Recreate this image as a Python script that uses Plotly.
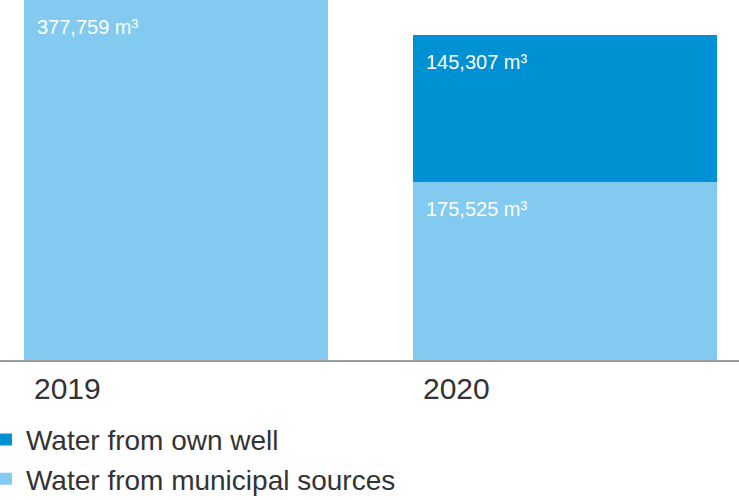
import plotly.graph_objects as go

# Wasserverbrauch nach Quelle
years = ['2019', '2020']
municipal = [377759, 175525]
own_well = [0, 145307]
unit = ' m³'

light_blue = '#82CAF0'
dark_blue = '#0091D5'
text_grey = '#333333'

fig = go.Figure()
fig.add_trace(go.Bar(
    x=years, y=municipal, name='Water from municipal sources',
    marker=dict(color=light_blue, line=dict(width=0)), width=0.78
))
fig.add_trace(go.Bar(
    x=years, y=own_well, name='Water from own well',
    marker=dict(color=dark_blue, line=dict(width=0)), width=0.78
))

y_top = 355400

# Wertebeschriftungen oben links im Segment (x als Kategorie-Index, sonst blendet plotly sie aus)
for i, yr in enumerate(years):
    base = 0
    for val in (municipal[i], own_well[i]):
        if val > 0:
            top = min(base + val, y_top)
            fig.add_annotation(
                x=i, y=top, xref='x', yref='y', text=f'{val:,}{unit}', showarrow=False,
                xanchor='left', yanchor='top', xshift=-141, yshift=-14,
                font=dict(color='white', size=20)
            )
        base += val

# Jahre unter der Achse, linksbündig
for i, yr in enumerate(years):
    fig.add_annotation(
        x=i, y=0, xref='x', yref='y', text=yr, showarrow=False,
        xanchor='left', yanchor='top', xshift=-144, yshift=-10,
        font=dict(color=text_grey, size=30)
    )

fig.update_layout(
    barmode='stack',
    width=739, height=500,
    margin=dict(l=0, r=0, t=0, b=140, autoexpand=False),
    paper_bgcolor='white', plot_bgcolor='white',
    font=dict(family='Liberation Sans, Arial, sans-serif', color=text_grey),
    showlegend=True,
    legend=dict(
        x=-0.019, xanchor='left', y=-0.152, yanchor='top',
        traceorder='reversed', font=dict(size=28, color=text_grey),
        bgcolor='rgba(0,0,0,0)'
    ),
    xaxis=dict(
        type='category', range=[-0.4524, 1.4473], showticklabels=False, ticks='',
        showline=True, linecolor='#9a9a9a', linewidth=2, showgrid=False,
        fixedrange=True
    ),
    yaxis=dict(
        range=[0, y_top], showticklabels=False, ticks='', showline=False,
        zeroline=False, showgrid=False, fixedrange=True
    ),
)

fig.write_html('out.html', config={'displayModeBar': False},
               post_script="document.body.style.margin='0';")
